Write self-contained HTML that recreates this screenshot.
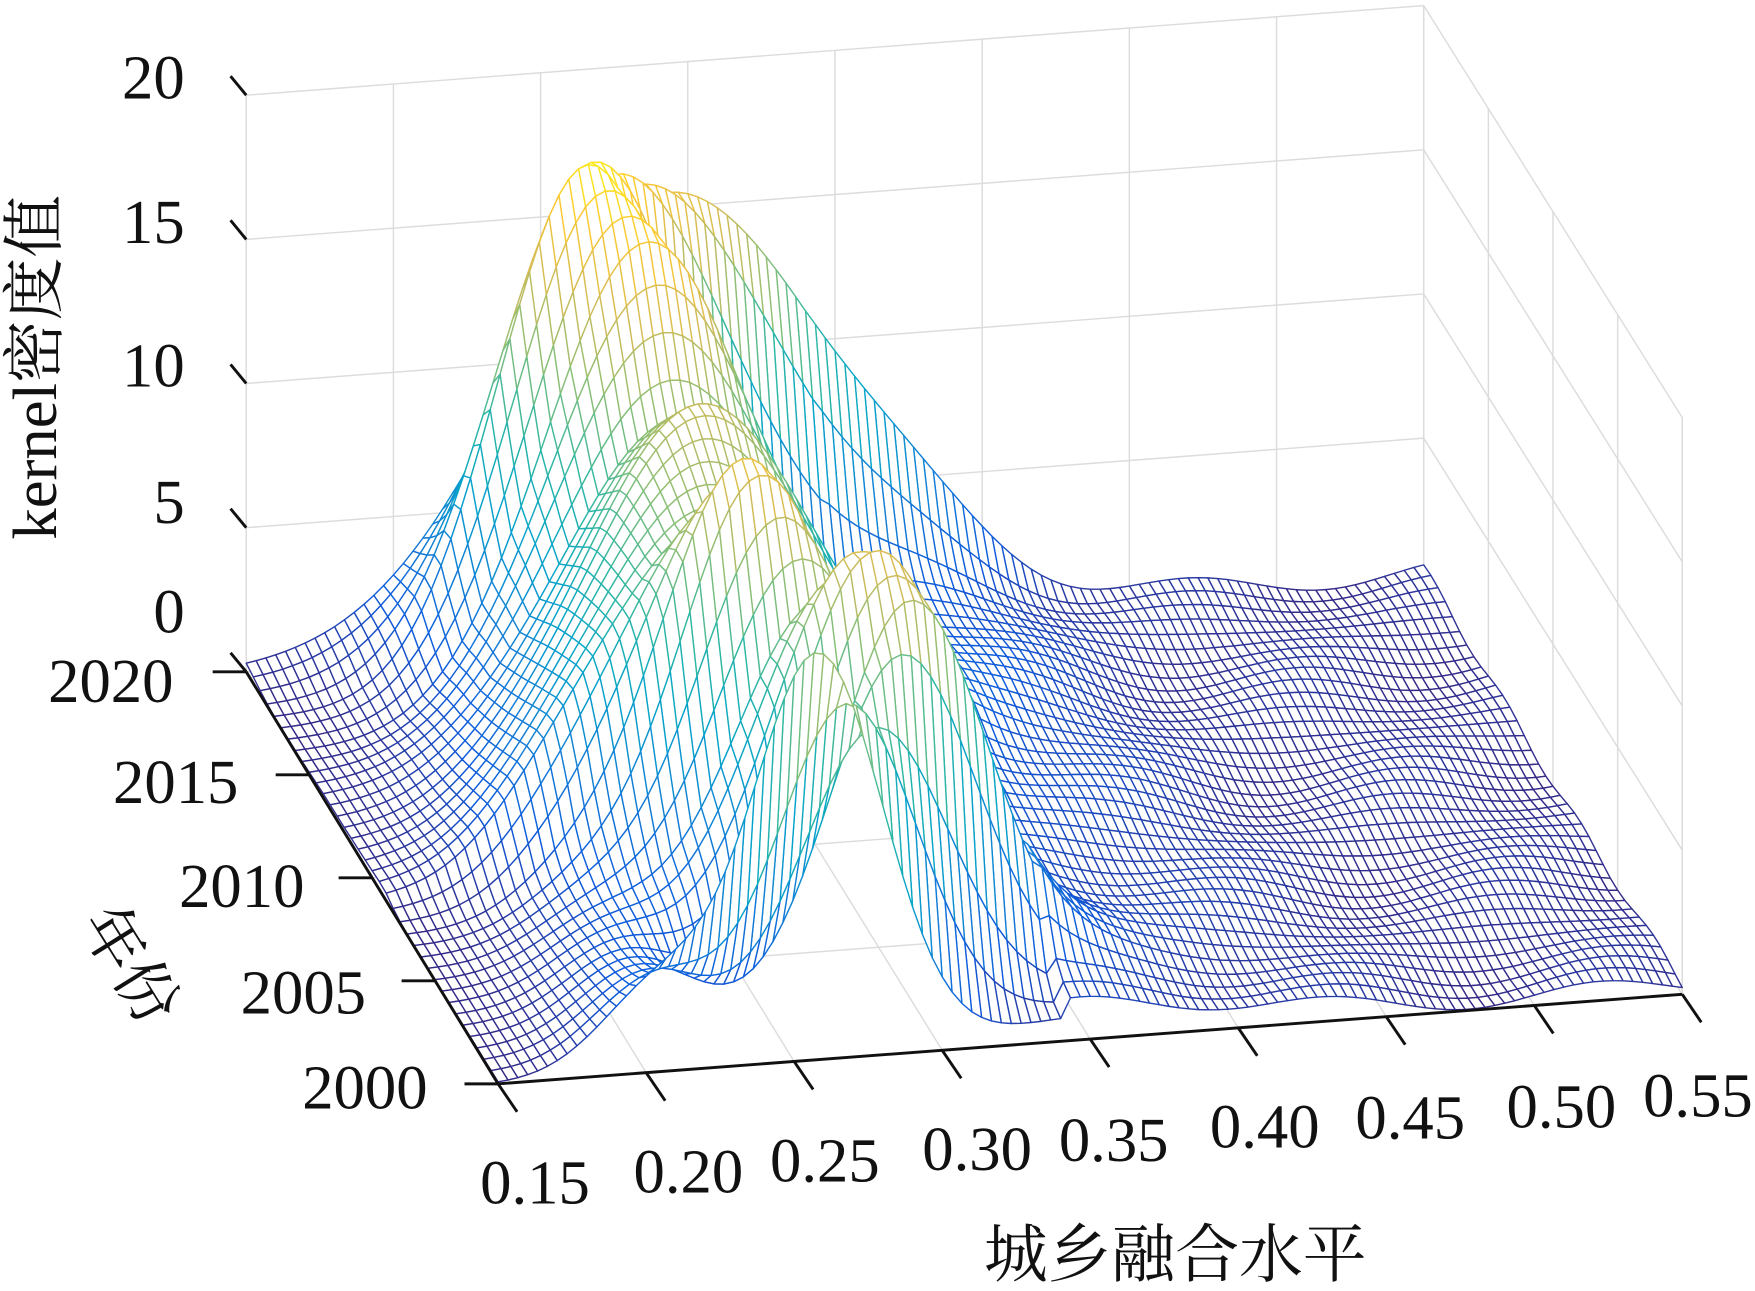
<!DOCTYPE html>
<html><head><meta charset="utf-8"><style>
html,body{margin:0;padding:0;background:#fff;}
svg{display:block;}
text{font-family:"Liberation Serif","Noto Serif CJK SC",serif;fill:#111;}
</style></head><body>
<svg id="s" width="1755" height="1291" viewBox="0 0 1568 1153" preserveAspectRatio="none" xmlns="http://www.w3.org/2000/svg">
<rect width="1568" height="1153" fill="#fff"/>
<g id="grid" stroke="#dcdcdc" stroke-width="1.3" fill="none"></g>
<g id="mesh" stroke-width="1.25" stroke-linejoin="round"></g>
<g id="axes" stroke="#111" stroke-width="2.6" fill="none"></g>
<g font-size="56" text-anchor="end">
<text x="165" y="88">20</text>
<text x="165" y="217">15</text>
<text x="165" y="345">10</text>
<text x="165" y="467">5</text>
<text x="165" y="565">0</text>
<text x="155" y="627">2020</text>
<text x="213" y="717">2015</text>
<text x="272" y="810">2010</text>
<text x="327" y="905">2005</text>
<text x="382" y="990">2000</text>
</g>
<g font-size="56" text-anchor="middle">
<text x="478" y="1075">0.15</text>
<text x="615" y="1065">0.20</text>
<text x="737" y="1055">0.25</text>
<text x="873" y="1045">0.30</text>
<text x="995" y="1037">0.35</text>
<text x="1130" y="1025">0.40</text>
<text x="1260" y="1017">0.45</text>
<text x="1395" y="1007">0.50</text>
<text x="1517" y="997">0.55</text>
</g>
<text x="1050" y="1140" font-size="57" text-anchor="middle">城乡融合水平</text>
<text transform="translate(50,328) rotate(-90)" font-size="56" text-anchor="middle">kernel密度值</text>
<text transform="translate(100,872) rotate(58)" font-size="56" text-anchor="middle">年份</text>
</svg>
<script>
function P(u,v,w){return [220+1052*u+225*v+6*u*v, 600-80*u+368*v-515*w];}
function f(p){return p[0].toFixed(1)+","+p[1].toFixed(1);}
var g="";
function L(a,b){g+='<line x1="'+a[0].toFixed(1)+'" y1="'+a[1].toFixed(1)+'" x2="'+b[0].toFixed(1)+'" y2="'+b[1].toFixed(1)+'"/>';}
for(var i=0;i<=4;i++){var w=i/4;L(P(0,0,w),P(1,0,w));L(P(1,0,w),P(1,1,w));}
for(var i=0;i<=8;i++){var u=i/8;L(P(u,0,0),P(u,0,1));L(P(u,0,0),P(u,1,0));}
for(var i=0;i<=4;i++){var v=i/4;L(P(1,v,0),P(1,v,1));L(P(0,v,0),P(1,v,0));}
L(P(0,0,0),P(0,0,1));
document.getElementById("grid").innerHTML=g;
g="";
L(P(0,0,0),P(0,1,0));L(P(0,1,0),P(1,1,0));
for(var i=0;i<=8;i++){var p=P(i/8,1,0);L(p,[p[0]+17,p[1]+25]);}
for(var i=0;i<=4;i++){var p=P(0,i/4,0);L([p[0]-30,p[1]],p);}
for(var i=0;i<=4;i++){var p=P(0,0,i/4);L([p[0]-14,p[1]-17],p);}
document.getElementById("axes").innerHTML=g;
var keys=[[0,0.29,15,0.05],[0.1,0.255,18.5,0.03],[0.2,0.27,16.5,0.035],[0.3,0.27,12,0.04],[0.4,0.27,14,0.04],[0.55,0.26,12,0.04],[0.65,0.265,16,0.028],[0.75,0.28,12,0.03],[0.82,0.29,15,0.03],[0.9,0.30,13.5,0.025],[0.95,0.28,10,0.025],[1,0.258,14,0.022]];
function par(v){for(var k=0;k<keys.length-1;k++){var A=keys[k],B=keys[k+1];if(v<=B[0]+1e-9){var t=(v-A[0])/(B[0]-A[0]);return [A[1]+(B[1]-A[1])*t,A[2]+(B[2]-A[2])*t,A[3]+(B[3]-A[3])*t];}}return keys[keys.length-1].slice(1);}
function Z(x,v){var p=par(v);var d=(x-p[0])/p[2];var z=p[1]*Math.exp(-0.5*d*d);
z+=2.2*Math.exp(-0.5*Math.pow((x-0.36)/0.04,2))*(1-0.6*v);
if(x>0.34){z+=0.35+0.35*Math.sin(x*70+v*9)*Math.cos(v*13);}
z+=3*Math.exp(-0.5*Math.pow((x-0.205)/0.02,2))*v*v;
return Math.max(0,z);}
var stops=[[0,53,42,135],[0.125,15,92,221],[0.25,20,129,214],[0.375,6,164,202],[0.5,46,183,164],[0.625,135,191,119],[0.75,209,187,89],[0.875,254,200,50],[1,249,251,14]];
function col(t){t=Math.max(0,Math.min(1,t));for(var k=0;k<stops.length-1;k++){var A=stops[k],B=stops[k+1];if(t<=B[0]){var s=(t-A[0])/(B[0]-A[0]);return "rgb("+Math.round(A[1]+(B[1]-A[1])*s)+","+Math.round(A[2]+(B[2]-A[2])*s)+","+Math.round(A[3]+(B[3]-A[3])*s)+")";}}}
var NX=120,NY=36,zm=19,grid=[];
for(var j=0;j<=NY;j++){grid[j]=[];for(var i=0;i<=NX;i++){var u=i/NX,v=j/NY;grid[j][i]=Z(0.15+0.4*u,v);}}
var s="";
for(var j=0;j<NY;j++){for(var i=NX-1;i>=0;i--){
var z1=grid[j][i],z2=grid[j][i+1],z3=grid[j+1][i+1],z4=grid[j+1][i];
var p1=P(i/NX,j/NY,z1/20),p2=P((i+1)/NX,j/NY,z2/20),p3=P((i+1)/NX,(j+1)/NY,z3/20),p4=P(i/NX,(j+1)/NY,z4/20);
var c=col((z1+z2+z3+z4)/4/zm);
s+='<polygon points="'+f(p1)+' '+f(p2)+' '+f(p3)+' '+f(p4)+'" fill="#fff" stroke="'+c+'"/>';
}}
document.getElementById("mesh").innerHTML=s;
</script>
</body></html>
